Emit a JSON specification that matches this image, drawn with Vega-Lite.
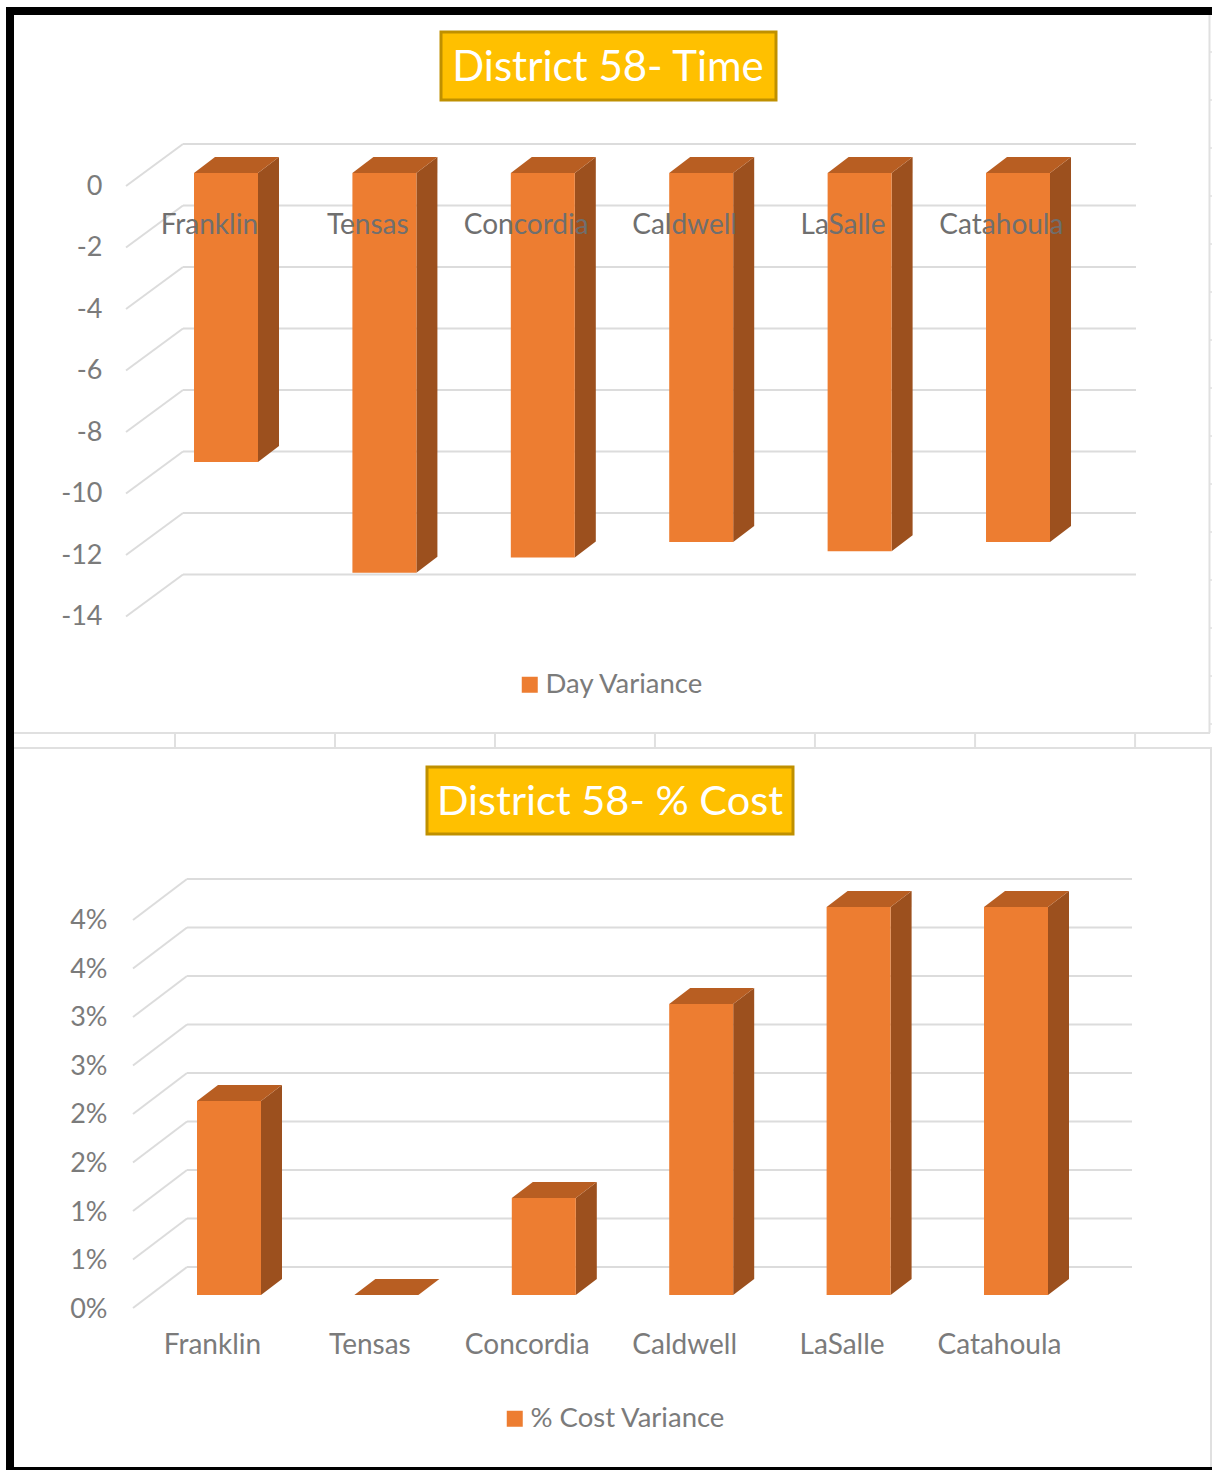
{
  "$schema": "https://vega.github.io/schema/vega-lite/v6.json",
  "padding": 0,
  "spacing": 0,
  "bounds": "flush",
  "background": "white",
  "config": {
    "view": {"stroke": null},
    "font": "Lato",
    "axis": {"grid": false, "domain": false, "ticks": false, "labelFont": "Lato", "labelFontSize": 27, "labelColor": "#7b7b7b", "labelPadding": 4, "title": null},
    "legend": {"labelFont": "Lato", "labelFontSize": 27.5, "labelColor": "#7b7b7b", "symbolType": "square", "symbolSize": 256, "symbolStrokeWidth": 0, "title": null, "orient": "none", "labelLimit": 400, "labelOffset": 2}
  },
  "resolve": {"scale": {"color": "independent"}, "legend": {"color": "independent"}},
  "datasets": {
    "single": [{"part": "chart furniture"}]
  },
  "vconcat": [
    {
      "width": 1212,
      "height": 748,
      "data": {"values": [
        {"district": "Franklin", "dayVariance": -9.4},
        {"district": "Tensas", "dayVariance": -13},
        {"district": "Concordia", "dayVariance": -12.5},
        {"district": "Caldwell", "dayVariance": -12},
        {"district": "LaSalle", "dayVariance": -12.3},
        {"district": "Catahoula", "dayVariance": -12}
      ]},
      "transform": [
        {"window": [{"op": "row_number", "as": "n"}]},
        {"calculate": "datum.n - 1", "as": "slot"}
      ],
      "layer": [
        {
          "data": {"values": [{"tick": 0}, {"tick": -2}, {"tick": -4}, {"tick": -6}, {"tick": -8}, {"tick": -10}, {"tick": -12}, {"tick": -14}]},
          "transform": [{"calculate": "datum.tick + 0.943", "as": "backY"}],
          "mark": {"type": "rule", "color": "#dcdcdc", "strokeWidth": 2},
          "encoding": {
            "x": {"datum": -0.2715, "type": "quantitative", "scale": {"domain": [-1.4268, 6.2247], "nice": false, "zero": false}, "axis": null},
            "x2": {"datum": 5.745},
            "y": {"field": "backY", "type": "quantitative", "stack": null, "scale": {"domain": [-18.699, 5.626], "nice": false, "zero": false},
              "axis": {"values": [0, -2, -4, -6, -8, -10, -12, -14], "offset": -106, "labelOffset": 13, "labelExpr": "'' + datum.value"}}
          }
        },
        {
          "data": {"values": [{"tick": 0}, {"tick": -2}, {"tick": -4}, {"tick": -6}, {"tick": -8}, {"tick": -10}, {"tick": -12}, {"tick": -14}]},
          "transform": [
            {"calculate": "datum.tick + 0.943", "as": "backY"},
            {"calculate": "datum.tick - 0.423", "as": "frontY"}
          ],
          "mark": {"type": "rule", "color": "#dcdcdc", "strokeWidth": 2},
          "encoding": {
            "x": {"datum": -0.6313, "type": "quantitative", "axis": null},
            "x2": {"datum": -0.2715},
            "y": {"field": "frontY", "type": "quantitative"},
            "y2": {"field": "backY"}
          }
        },
        {
          "transform": [
            {"calculate": "[0, 1]", "as": "depth"},
            {"flatten": ["depth"]},
            {"calculate": "datum.slot + 0.202 + datum.depth * 0.1326", "as": "sideX"},
            {"calculate": "datum.depth * 0.5203", "as": "sideTop"},
            {"calculate": "datum.dayVariance + datum.depth * 0.5203", "as": "sideBottom"}
          ],
          "mark": {"type": "area", "orient": "vertical", "color": "#9C501E"},
          "encoding": {
            "x": {"field": "sideX", "type": "quantitative", "axis": null},
            "y": {"field": "sideTop", "type": "quantitative", "stack": null},
            "y2": {"field": "sideBottom"},
            "detail": {"field": "district", "type": "nominal"}
          }
        },
        {
          "transform": [
            {"calculate": "[0, 1, 2, 3]", "as": "corner"},
            {"flatten": ["corner"]},
            {"calculate": "datum.slot - 0.202 + [0, 0.1326, 0.404, 0.5366][datum.corner]", "as": "capX"},
            {"calculate": "[0, 0.5203, 0.5203, 0.5203][datum.corner]", "as": "capUpper"},
            {"calculate": "[0, 0, 0, 0.5203][datum.corner]", "as": "capLower"}
          ],
          "mark": {"type": "area", "orient": "vertical", "color": "#B85E22"},
          "encoding": {
            "x": {"field": "capX", "type": "quantitative", "axis": null},
            "y": {"field": "capUpper", "type": "quantitative", "stack": null},
            "y2": {"field": "capLower"},
            "detail": {"field": "district", "type": "nominal"}
          }
        },
        {
          "transform": [
            {"calculate": "datum.slot - 0.202", "as": "left"},
            {"calculate": "datum.slot + 0.202", "as": "right"},
            {"calculate": "0", "as": "front"}
          ],
          "mark": {"type": "rect"},
          "encoding": {
            "x": {"field": "left", "type": "quantitative", "axis": null},
            "x2": {"field": "right"},
            "y": {"field": "front", "type": "quantitative"},
            "y2": {"field": "dayVariance"},
            "color": {"datum": "Day Variance", "type": "nominal",
              "scale": {"range": ["#ED7D31"]},
              "legend": {"legendX": 516, "legendY": 671}}
          }
        },
        {
          "transform": [
            {"calculate": "datum.slot - 0.105", "as": "labelX"},
            {"calculate": "-1.724", "as": "labelY"}
          ],
          "mark": {"type": "text", "fontSize": 28, "color": "#6f6f6f", "baseline": "middle"},
          "encoding": {
            "x": {"field": "labelX", "type": "quantitative", "axis": null},
            "y": {"field": "labelY", "type": "quantitative", "stack": null},
            "text": {"field": "district"}
          }
        },
        {
          "data": {"name": "single"},
          "mark": {"type": "rect", "fill": "#FFC000", "stroke": "#BF9000", "strokeWidth": 3},
          "encoding": {
            "x": {"datum": 1.3573, "type": "quantitative", "axis": null},
            "x2": {"datum": 3.4722},
            "y": {"datum": 4.5854, "type": "quantitative"},
            "y2": {"datum": 2.374}
          }
        },
        {
          "data": {"name": "single"},
          "mark": {"type": "text", "fontSize": 42, "color": "white", "baseline": "middle"},
          "encoding": {
            "x": {"datum": 2.4116, "type": "quantitative", "axis": null},
            "y": {"datum": 3.415, "type": "quantitative"},
            "text": {"value": "District 58- Time"}
          }
        },
        {
          "data": {"name": "single"},
          "mark": {"type": "rule", "color": "black", "strokeWidth": 8},
          "encoding": {
            "x": {"datum": -1.3889, "type": "quantitative", "axis": null},
            "x2": {"datum": 6.2247},
            "y": {"datum": 5.268, "type": "quantitative"}
          }
        },
        {
          "data": {"name": "single"},
          "mark": {"type": "rule", "color": "black", "strokeWidth": 8},
          "encoding": {
            "x": {"datum": -1.3636, "type": "quantitative", "axis": null},
            "y": {"datum": 5.398, "type": "quantitative"},
            "y2": {"datum": -18.699}
          }
        },
        {
          "data": {"name": "single"},
          "mark": {"type": "rule", "color": "#e0e0e0", "strokeWidth": 2},
          "encoding": {
            "x": {"datum": 6.2089, "type": "quantitative", "axis": null},
            "y": {"datum": 5.138, "type": "quantitative"},
            "y2": {"datum": -18.211}
          }
        },
        {
          "data": {"name": "single"},
          "mark": {"type": "rule", "color": "#e0e0e0", "strokeWidth": 2},
          "encoding": {
            "x": {"datum": -1.3384, "type": "quantitative", "axis": null},
            "x2": {"datum": 6.2121},
            "y": {"datum": -18.211, "type": "quantitative"}
          }
        },
        {
          "data": {"values": [{"cell": -0.322}, {"cell": 0.688}, {"cell": 1.698}, {"cell": 2.708}, {"cell": 3.718}, {"cell": 4.729}, {"cell": 5.739}]},
          "mark": {"type": "rule", "color": "#e0e0e0", "strokeWidth": 2},
          "encoding": {
            "x": {"field": "cell", "type": "quantitative", "axis": null},
            "y": {"datum": -18.211, "type": "quantitative"},
            "y2": {"datum": -18.699}
          }
        },
        {
          "data": {"values": [{"row": 3.935}, {"row": 2.374}, {"row": 0.813}, {"row": -0.748}, {"row": -2.309}, {"row": -3.87}, {"row": -5.431}, {"row": -6.992}, {"row": -8.553}, {"row": -10.114}, {"row": -11.675}, {"row": -13.236}, {"row": -14.797}, {"row": -16.358}, {"row": -17.919}]},
          "mark": {"type": "rule", "color": "#e0e0e0", "strokeWidth": 1.5},
          "encoding": {
            "x": {"datum": 6.2089, "type": "quantitative", "axis": null},
            "x2": {"datum": 6.2247},
            "y": {"field": "row", "type": "quantitative", "stack": null}
          }
        }
      ]
    },
    {
      "width": 1212,
      "height": 722,
      "data": {"values": [
        {"district": "Franklin", "costVariance": 0.02},
        {"district": "Tensas", "costVariance": 0},
        {"district": "Concordia", "costVariance": 0.01},
        {"district": "Caldwell", "costVariance": 0.03},
        {"district": "LaSalle", "costVariance": 0.04},
        {"district": "Catahoula", "costVariance": 0.04}
      ]},
      "transform": [
        {"window": [{"op": "row_number", "as": "n"}]},
        {"calculate": "datum.n - 1", "as": "slot"}
      ],
      "layer": [
        {
          "data": {"values": [{"tick": 0}, {"tick": 0.005}, {"tick": 0.01}, {"tick": 0.015}, {"tick": 0.02}, {"tick": 0.025}, {"tick": 0.03}, {"tick": 0.035}, {"tick": 0.04}]},
          "transform": [{"calculate": "datum.tick + 0.002887", "as": "backY"}],
          "mark": {"type": "rule", "color": "#dcdcdc", "strokeWidth": 2},
          "encoding": {
            "x": {"datum": -0.2668, "type": "quantitative", "scale": {"domain": [-1.4549, 6.2452], "nice": false, "zero": false}, "axis": null},
            "x2": {"datum": 5.737},
            "y": {"field": "backY", "type": "quantitative", "stack": null, "scale": {"domain": [-0.01804, 0.05639], "nice": false, "zero": false},
              "axis": {"values": [0, 0.005, 0.01, 0.015, 0.02, 0.025, 0.03, 0.035, 0.04], "offset": -111, "labelOffset": 14, "format": ".0%"}}
          }
        },
        {
          "data": {"values": [{"tick": 0}, {"tick": 0.005}, {"tick": 0.01}, {"tick": 0.015}, {"tick": 0.02}, {"tick": 0.025}, {"tick": 0.03}, {"tick": 0.035}, {"tick": 0.04}]},
          "transform": [
            {"calculate": "datum.tick + 0.002887", "as": "backY"},
            {"calculate": "datum.tick - 0.00134", "as": "frontY"}
          ],
          "mark": {"type": "rule", "color": "#dcdcdc", "strokeWidth": 2},
          "encoding": {
            "x": {"datum": -0.6099, "type": "quantitative", "axis": null},
            "x2": {"datum": -0.2668},
            "y": {"field": "frontY", "type": "quantitative"},
            "y2": {"field": "backY"}
          }
        },
        {
          "transform": [
            {"calculate": "[0, 1]", "as": "depth"},
            {"flatten": ["depth"]},
            {"calculate": "datum.slot + 0.2033 + datum.depth * 0.1334", "as": "sideX"},
            {"calculate": "datum.depth * 0.00165", "as": "sideBottom"},
            {"calculate": "datum.costVariance + datum.depth * 0.00165", "as": "sideTop"}
          ],
          "mark": {"type": "area", "orient": "vertical", "color": "#9C501E"},
          "encoding": {
            "x": {"field": "sideX", "type": "quantitative", "axis": null},
            "y": {"field": "sideTop", "type": "quantitative", "stack": null},
            "y2": {"field": "sideBottom"},
            "detail": {"field": "district", "type": "nominal"}
          }
        },
        {
          "transform": [
            {"calculate": "[0, 1, 2, 3]", "as": "corner"},
            {"flatten": ["corner"]},
            {"calculate": "datum.slot - 0.2033 + [0, 0.1334, 0.4066, 0.54][datum.corner]", "as": "capX"},
            {"calculate": "datum.costVariance + [0, 0.00165, 0.00165, 0.00165][datum.corner]", "as": "capUpper"},
            {"calculate": "datum.costVariance + [0, 0, 0, 0.00165][datum.corner]", "as": "capLower"}
          ],
          "mark": {"type": "area", "orient": "vertical", "color": "#B85E22"},
          "encoding": {
            "x": {"field": "capX", "type": "quantitative", "axis": null},
            "y": {"field": "capUpper", "type": "quantitative", "stack": null},
            "y2": {"field": "capLower"},
            "detail": {"field": "district", "type": "nominal"}
          }
        },
        {
          "transform": [
            {"calculate": "datum.slot - 0.2033", "as": "left"},
            {"calculate": "datum.slot + 0.2033", "as": "right"},
            {"calculate": "0", "as": "front"}
          ],
          "mark": {"type": "rect"},
          "encoding": {
            "x": {"field": "left", "type": "quantitative", "axis": null},
            "x2": {"field": "right"},
            "y": {"field": "front", "type": "quantitative"},
            "y2": {"field": "costVariance"},
            "color": {"datum": "% Cost Variance", "type": "nominal",
              "scale": {"range": ["#ED7D31"]},
              "legend": {"legendX": 501, "legendY": 657}}
          }
        },
        {
          "transform": [
            {"calculate": "datum.slot - 0.105", "as": "labelX"},
            {"calculate": "-0.00525", "as": "labelY"}
          ],
          "mark": {"type": "text", "fontSize": 28, "color": "#7b7b7b", "baseline": "middle"},
          "encoding": {
            "x": {"field": "labelX", "type": "quantitative", "axis": null},
            "y": {"field": "labelY", "type": "quantitative", "stack": null},
            "text": {"field": "district"}
          }
        },
        {
          "data": {"name": "single"},
          "mark": {"type": "rect", "fill": "#FFC000", "stroke": "#BF9000", "strokeWidth": 3},
          "encoding": {
            "x": {"datum": 1.2579, "type": "quantitative", "axis": null},
            "x2": {"datum": 3.5832},
            "y": {"datum": 0.054433, "type": "quantitative"},
            "y2": {"datum": 0.047526}
          }
        },
        {
          "data": {"name": "single"},
          "mark": {"type": "text", "fontSize": 41.5, "color": "white", "baseline": "middle"},
          "encoding": {
            "x": {"datum": 2.4206, "type": "quantitative", "axis": null},
            "y": {"datum": 0.050722, "type": "quantitative"},
            "text": {"value": "District 58- % Cost"}
          }
        },
        {
          "data": {"name": "single"},
          "mark": {"type": "rule", "color": "black", "strokeWidth": 8},
          "encoding": {
            "x": {"datum": -1.3913, "type": "quantitative", "axis": null},
            "y": {"datum": 0.05639, "type": "quantitative"},
            "y2": {"datum": -0.01804}
          }
        },
        {
          "data": {"name": "single"},
          "mark": {"type": "rule", "color": "black", "strokeWidth": 4},
          "encoding": {
            "x": {"datum": -1.4168, "type": "quantitative", "axis": null},
            "x2": {"datum": 6.2452},
            "y": {"datum": -0.017938, "type": "quantitative"}
          }
        },
        {
          "data": {"name": "single"},
          "mark": {"type": "rule", "color": "#e0e0e0", "strokeWidth": 2},
          "encoding": {
            "x": {"datum": 6.2389, "type": "quantitative", "axis": null},
            "y": {"datum": 0.05639, "type": "quantitative"},
            "y2": {"datum": -0.017732}
          }
        },
        {
          "data": {"name": "single"},
          "mark": {"type": "rule", "color": "#e0e0e0", "strokeWidth": 2},
          "encoding": {
            "x": {"datum": -1.3659, "type": "quantitative", "axis": null},
            "x2": {"datum": 6.2452},
            "y": {"datum": 0.05639, "type": "quantitative"}
          }
        }
      ]
    }
  ]
}
